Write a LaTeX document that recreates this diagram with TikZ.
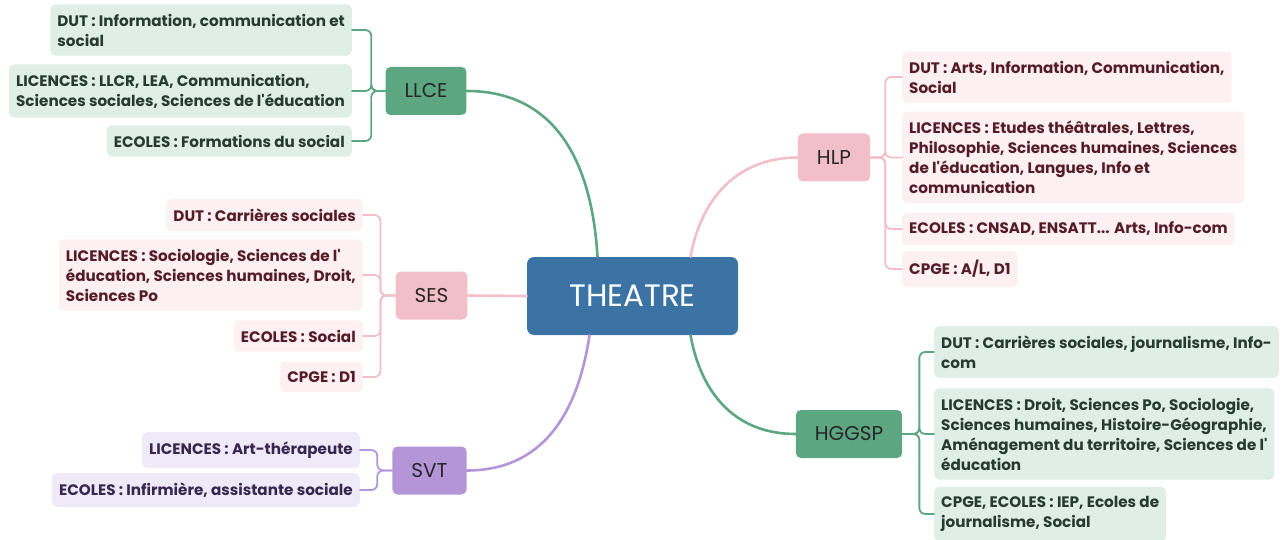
\documentclass[tikz,border=0pt]{standalone}
\usepackage{fontspec}
\setmainfont{Poppins}
\newcommand{\apos}{\textquotesingle}
\definecolor{rootblue}{RGB}{59,115,165}
\definecolor{grn}{RGB}{92,166,130}
\definecolor{grnleaf}{RGB}{223,238,230}
\definecolor{grntext}{RGB}{40,58,50}
\definecolor{pnk}{RGB}{242,190,199}
\definecolor{pnkleaf}{RGB}{252,240,242}
\definecolor{pnktext}{RGB}{85,28,40}
\definecolor{prp}{RGB}{180,149,216}
\definecolor{prpleaf}{RGB}{240,234,248}
\definecolor{prptext}{RGB}{55,38,78}
\tikzset{
  root/.style={fill=rootblue, text=white, rounded corners=7pt, minimum width=211pt,
    minimum height=78pt, font=\fontsize{31}{34}\selectfont},
  branch/.style={rounded corners=5pt, minimum height=48pt, inner xsep=19pt,
    text=black!85, font=\fontsize{20}{22}\selectfont},
  leaf/.style={rounded corners=5pt, inner xsep=7pt, inner ysep=9.5pt, align=left,
    font=\bfseries\fontsize{15.2}{20}\selectfont},
  leafG/.style={leaf, fill=grnleaf, text=grntext},
  leafP/.style={leaf, fill=pnkleaf, text=pnktext},
  leafV/.style={leaf, fill=prpleaf, text=prptext},
  link/.style={line width=2.6pt},
  fork/.style={line width=1.8pt, rounded corners=6pt}
}
\begin{document}
\begin{tikzpicture}[x=1pt, y=-1pt, line cap=round, line join=round]
	\useasboundingbox (0,0) rectangle (1285,540);
	\node[root] (theatre) at (632.5,296) {THEATRE};
	\node[branch, fill=grn] (llce) at (426,91) {LLCE};
	\node[branch, fill=pnk] (ses) at (431.5,295.5) {SES};
	\node[branch, fill=prp] (svt) at (429.5,470.5) {SVT};
	\node[branch, fill=pnk] (hlp) at (834,157.5) {HLP};
	\node[branch, fill=grn] (hggsp) at (849,434) {HGGSP};
	% main links
	\draw[link, grn] (llce.east) .. controls +(95,0) and +(-5,-85) .. ([xshift=-35pt]theatre.north);
	\draw[link, pnk] (ses.east) -- (theatre.west);
	\draw[link, prp] ([xshift=-43pt]theatre.south) .. controls +(-12,80) and +(75,0) .. (svt.east);
	\draw[link, pnk] ([xshift=58pt]theatre.north) .. controls +(12,-65) and +(-55,0) .. (hlp.west);
	\draw[link, grn] ([xshift=58pt]theatre.south) .. controls +(12,65) and +(-55,0) .. (hggsp.west);
	% LLCE
	\foreach \k/\y/\t in {a/30/{DUT : Information, communication et\\social},
		b/91/{LICENCES : LLCR, LEA, Communication,\\Sciences sociales, Sciences de l\apos éducation},
		c/141/{ECOLES : Formations du social}}{
		\node[leafG, anchor=east] (llce\k) at (352,\y) {\t};
		\draw[fork, grn] (llce.west) -- ++(-14,0) |- (llce\k.east);
	}
	% SES
	\foreach \k/\y/\t in {a/215/{DUT : Carrières sociales},
		b/275/{LICENCES : Sociologie, Sciences de l\apos\\éducation, Sciences humaines, Droit,\\Sciences Po},
		c/336/{ECOLES : Social},
		d/377/{CPGE : D1}}{
		\node[leafP, anchor=east] (ses\k) at (363,\y) {\t};
		\draw[fork, pnk] (ses.west) -- ++(-15,0) |- (ses\k.east);
	}
	% SVT
	\foreach \k/\y/\t in {a/450/{LICENCES : Art-thérapeute},
		b/490/{ECOLES : Infirmière, assistante sociale}}{
		\node[leafV, anchor=east] (svt\k) at (360,\y) {\t};
		\draw[fork, prp] (svt.west) -- ++(-15,0) |- (svt\k.east);
	}
	% HLP
	\foreach \k/\y/\t in {a/77/{DUT : Arts, Information, Communication,\\Social},
		b/157.5/{LICENCES : Etudes théâtrales, Lettres,\\Philosophie, Sciences humaines, Sciences\\de l\apos éducation, Langues, Info et\\communication},
		c/229/{ECOLES : CNSAD, ENSATT... Arts, Info-com},
		d/269/{CPGE : A/L, D1}}{
		\node[leafP, anchor=west] (hlp\k) at (902,\y) {\t};
		\draw[fork, pnk] (hlp.east) -- ++(15,0) |- (hlp\k.west);
	}
	% HGGSP
	\foreach \k/\y/\t in {a/352/{DUT : Carrières sociales, journalisme, Info-\\com},
		b/434/{LICENCES : Droit, Sciences Po, Sociologie,\\Sciences humaines, Histoire-Géographie,\\Aménagement du territoire, Sciences de l\apos\\éducation},
		c/514/{CPGE, ECOLES : IEP, Ecoles de\\journalisme, Social}}{
		\node[leafG, anchor=west] (hggsp\k) at (934,\y) {\t};
		\draw[fork, grn] (hggsp.east) -- ++(17,0) |- (hggsp\k.west);
	}
\end{tikzpicture}
\end{document}
